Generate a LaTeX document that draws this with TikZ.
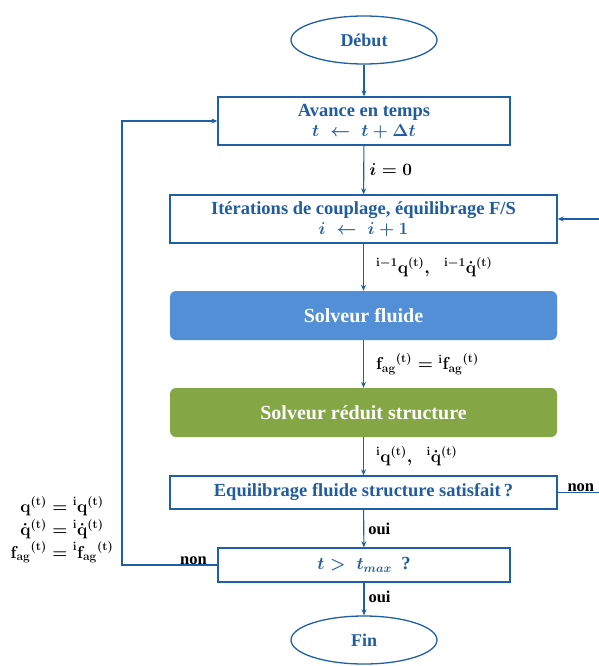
\documentclass[tikz,border=0pt]{standalone}
\usepackage[no-math]{fontspec}
\setmainfont{Liberation Serif}
\usepackage{amsmath}
\usetikzlibrary{shapes.geometric,arrows.meta}
\definecolor{bord}{HTML}{1F5FA8}
\definecolor{txtb}{HTML}{1F5CA0}
\definecolor{fluidc}{HTML}{538FD6}
\definecolor{structc}{HTML}{84A645}
\tikzset{
  ell/.style={ellipse, draw=bord, line width=1.3pt, minimum width=146pt, minimum height=48pt, text=txtb, font=\fontsize{18}{20}\selectfont\bfseries, inner sep=0pt},
  box/.style={rectangle, draw=bord, line width=1.3pt, text=txtb, font=\fontsize{18.5}{20}\selectfont\bfseries\boldmath, align=center, inner sep=0pt},
  solv/.style={rectangle, rounded corners=6pt, text=white, font=\fontsize{20}{22}\selectfont\bfseries, minimum width=387pt, minimum height=49pt, inner sep=0pt},
  arr/.style={draw=bord, line width=1.1pt, -{Stealth[length=6pt,width=5pt]}},
  lab/.style={text=black, font=\fontsize{16.5}{18}\selectfont\bfseries\boldmath, inner sep=2pt}
}
\begin{document}
\begin{tikzpicture}[x=1pt,y=-1pt]
\useasboundingbox (0,0) rectangle (598,666);
\node[ell] (deb) at (364,40) {Début};
\node[box, minimum width=292pt, minimum height=48pt] (av) at (364,121) {Avance en temps\\[0pt] $t\;\leftarrow\;t+\Delta t$};
\node[box, minimum width=387pt, minimum height=48pt] (it) at (363.5,219) {Itérations de couplage, équilibrage F/S\\[0pt] $i\;\leftarrow\;i+1$};
\node[solv, fill=fluidc] (fl) at (363.5,315.5) {Solveur fluide};
\node[solv, fill=structc] (st) at (363.5,412.5) {Solveur réduit structure};
\node[box, minimum width=387pt, minimum height=33pt] (eq) at (363.5,492.5) {Equilibrage fluide structure satisfait\,?};
\node[box, minimum width=292pt, minimum height=34pt] (tm) at (364,565) {$t>\;t_{max}$~~?};
\node[ell] (fin) at (364,640) {Fin};
\coordinate (rt) at (600,492.5);
\coordinate (lf) at (122,565);

\draw[arr] (deb) -- (av);
\draw[arr] (av) -- node[lab, right=3pt] {$i=0$} (it);
\draw[arr] (it) -- node[lab, right=10pt] {${}^{\mathbf{i-1}}\mathbf{q}^{(\mathbf{t})},\;\; {}^{\mathbf{i-1}}\dot{\mathbf{q}}^{(\mathbf{t})}$} (fl);
\draw[arr] (fl) -- node[lab, right=10pt] {$\mathbf{f_{ag}}^{(\mathbf{t})}={}^{\mathbf{i}}\mathbf{f_{ag}}^{(\mathbf{t})}$} (st);
\draw[arr] (st) -- node[lab, right=10pt] {${}^{\mathbf{i}}\mathbf{q}^{(\mathbf{t})},\;\; {}^{\mathbf{i}}\dot{\mathbf{q}}^{(\mathbf{t})}$} (eq);
\draw[arr] (eq) -- node[lab, right=2pt] {oui} (tm);
\draw[arr] (tm) -- node[lab, right=2pt, pos=0.45] {oui} (fin);
\draw[arr] (eq.east) -- node[lab, above=-2pt, xshift=2pt] {non} (rt) |- (it.east);
\draw[arr] (tm.west) -- node[lab, above=-2pt, pos=0.25] {non} (lf) |- (av.west);
\node[lab] (eqs) at (62,530) {$\begin{aligned}
\mathbf{q}^{(\mathbf{t})} &= {}^{\mathbf{i}}\mathbf{q}^{(\mathbf{t})}\\[-3pt]
\dot{\mathbf{q}}^{(\mathbf{t})} &= {}^{\mathbf{i}}\dot{\mathbf{q}}^{(\mathbf{t})}\\[-3pt]
\mathbf{f_{ag}}^{(\mathbf{t})} &= {}^{\mathbf{i}}\mathbf{f_{ag}}^{(\mathbf{t})}
\end{aligned}$};
\end{tikzpicture}
\end{document}
